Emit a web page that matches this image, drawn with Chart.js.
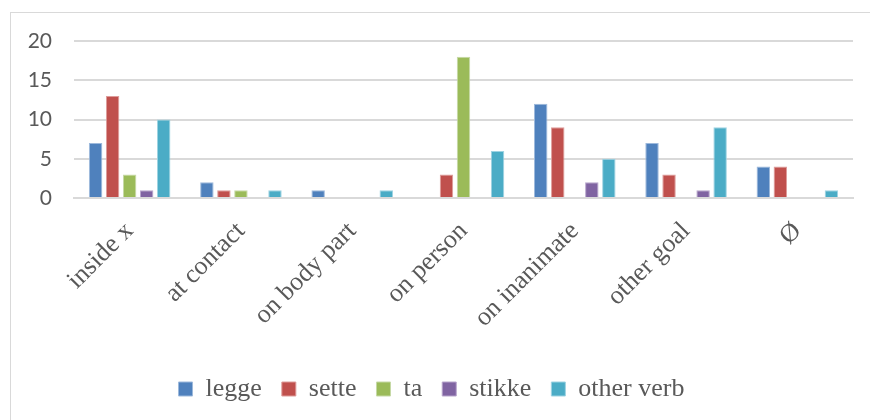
<!DOCTYPE html>
<html>
<head>
<meta charset="utf-8">
<script src="https://cdn.jsdelivr.net/npm/chart.js@4/dist/chart.umd.min.js"></script>
<style>
  html, body { margin: 0; padding: 0; background: #fff; }
  #wrap { position: relative; width: 870px; height: 420px; overflow: hidden; }
  #frame { position: absolute; left: 10px; top: 12px; width: 900px; height: 450px; border: 1px solid #d9d9d9; box-sizing: border-box; }
  canvas { position: absolute; left: 0; top: 0; }
  .pre { position: absolute; left: -999px; top: -999px; }
</style>
</head>
<body>
<div id="wrap">
  <div id="frame"></div>
  <canvas id="c" width="870" height="420"></canvas>
</div>
<span class="pre" style="font-family:'Liberation Serif'">aØ</span>
<span class="pre" style="font-family:'Lato'">20</span>
<script>
const categories = ["inside x", "at contact", "on body part", "on person", "on inanimate", "other goal", "Ø"];
const seriesNames = ["legge", "sette", "ta", "stikke", "other verb"];
const legge     = [7, 2, 1, 0, 12, 7, 4];
const sette     = [13, 1, 0, 3, 9, 3, 4];
const ta        = [3, 1, 0, 18, 0, 0, 0];
const stikke    = [1, 0, 0, 0, 2, 1, 0];
const otherVerb = [10, 1, 1, 6, 5, 9, 1];
const yTicks = [0, 5, 10, 15, 20];

const colors = ["#4F81BD", "#C0504D", "#9BBB59", "#8064A2", "#4BACC6"];
const borders = ["#9DB9DC", "#DE9C9A", "#C6D9A6", "#B7A5CC", "#9ED3E2"];
const values = [legge, sette, ta, stikke, otherVerb];

const SERIF = "'Liberation Serif', serif";
const SANS = "Lato, 'Liberation Sans', sans-serif";

function draw() {
  const datasets = seriesNames.map((n, i) => ({
    label: n,
    data: values[i],
    backgroundColor: colors[i],
    borderColor: borders[i],
    borderWidth: 1,
    categoryPercentage: 0.765,
    barPercentage: 0.79
  }));

  new Chart(document.getElementById('c'), {
    type: 'bar',
    data: { labels: categories, datasets },
    options: {
      responsive: false,
      animation: false,
      layout: { padding: { left: 10, right: 17, top: 41, bottom: 8 } },
      plugins: {
        tooltip: { enabled: false },
        legend: {
          position: 'bottom',
          labels: {
            boxWidth: 14, boxHeight: 14, padding: 20,
            color: '#595959',
            font: { family: SERIF, size: 26 }
          }
        }
      },
      scales: {
        x: {
          grid: { display: false, drawTicks: false },
          border: { display: true, color: '#d9d9d9', width: 2 },
          ticks: {
            minRotation: 45, maxRotation: 45, padding: 18,
            color: '#595959',
            font: { family: SERIF, size: 26 }
          },
          afterFit: (s) => { s.height = 158; }
        },
        y: {
          min: 0, max: 20,
          afterBuildTicks: (s) => { s.ticks = yTicks.map(v => ({ value: v })); },
          grid: { color: '#d9d9d9', lineWidth: 2, drawTicks: false },
          border: { display: false },
          ticks: {
            padding: 22,
            color: '#595959',
            font: { family: SANS, size: 21 }
          },
          afterFit: (s) => { s.width = 64; }
        }
      }
    }
  });
}

Promise.all([
  document.fonts.load("26px 'Liberation Serif'", "aØ"),
  document.fonts.load("21px Lato", "20")
]).catch(() => {}).then(draw);
</script>
</body>
</html>
